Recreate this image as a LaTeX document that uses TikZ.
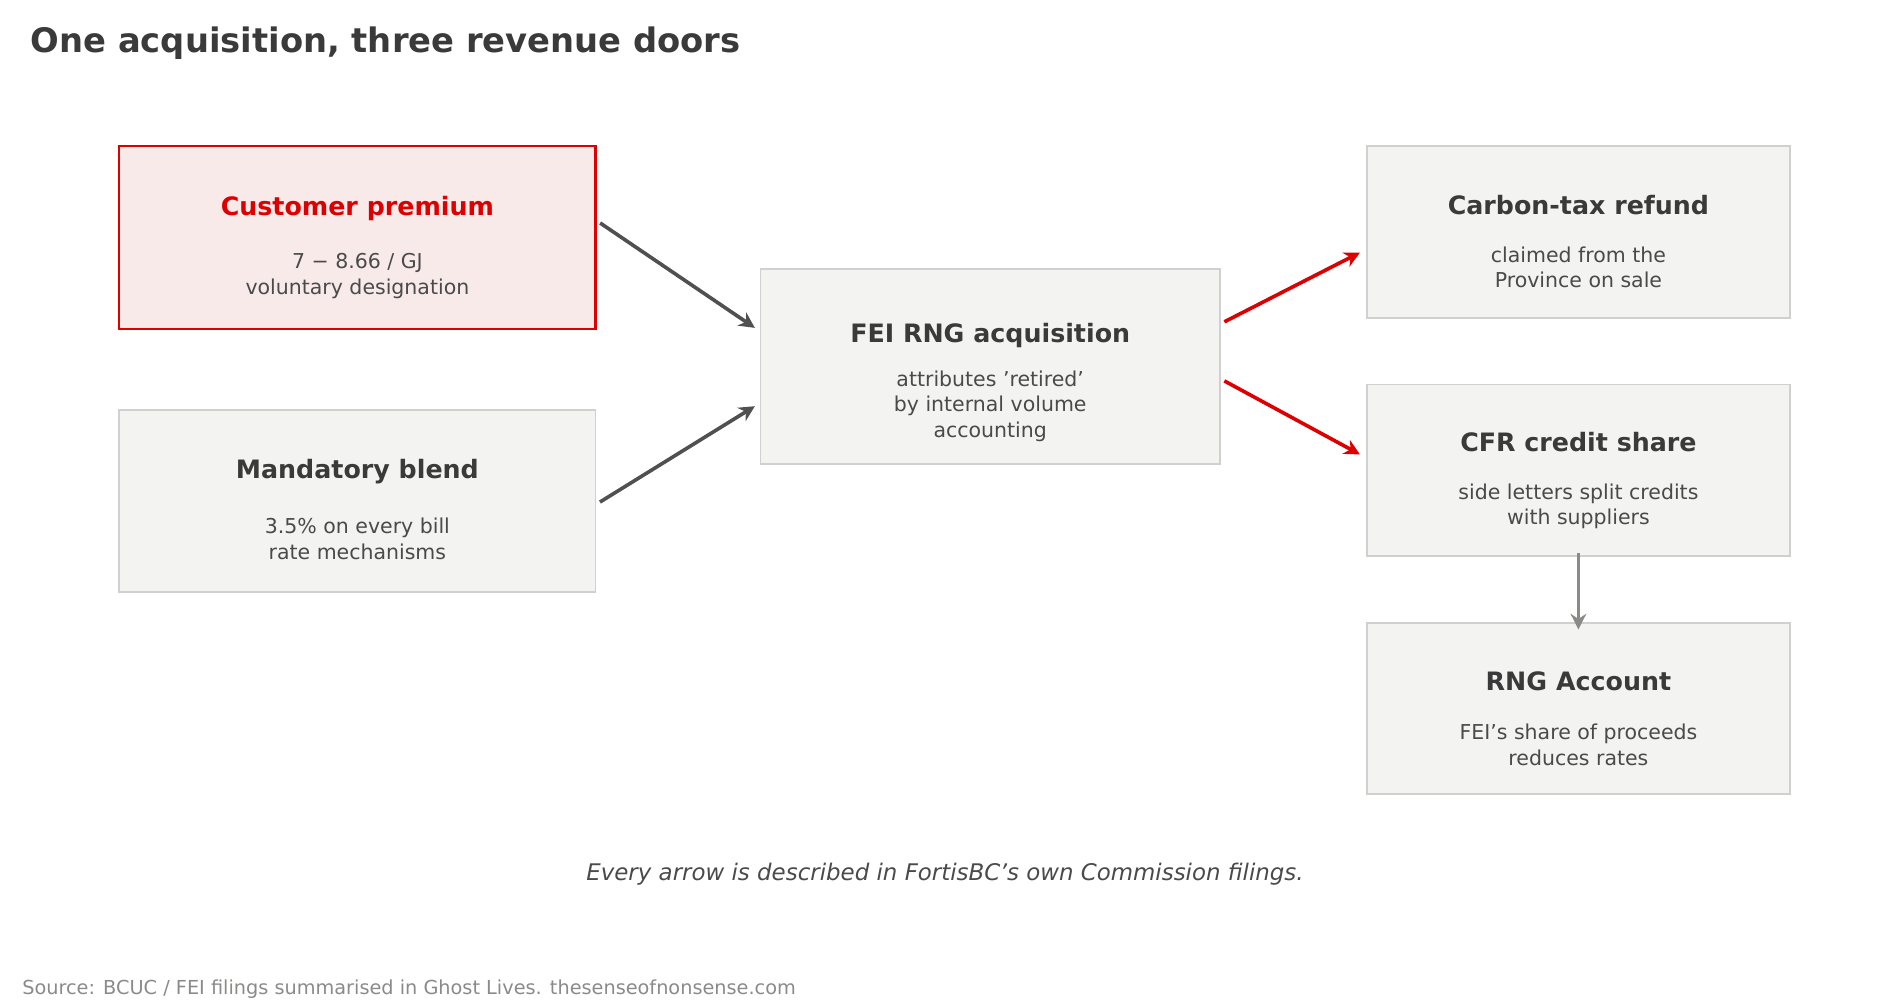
\documentclass[tikz,border=0pt]{standalone}
\usepackage{fontspec}
\setmainfont{DejaVu Sans}
\usetikzlibrary{arrows.meta, positioning}
\definecolor{accent}{HTML}{DD0000}
\definecolor{pinkfill}{HTML}{F9EAEA}
\definecolor{boxfill}{HTML}{F3F3F2}
\definecolor{boxline}{HTML}{D0D0CE}
\definecolor{ink}{HTML}{3A3A3A}
\definecolor{subink}{HTML}{4A4A4A}
\definecolor{darkarrow}{HTML}{505050}
\definecolor{greyarrow}{HTML}{8A8A88}
\tikzset{
  card/.style={draw=boxline, fill=boxfill, line width=1.5pt, inner sep=0pt},
  hot/.style={draw=accent, fill=pinkfill, line width=1.8pt, inner sep=0pt},
  head/.style={font=\fontsize{21}{25}\selectfont\bfseries, text=ink},
  sub/.style={font=\fontsize{17}{21}\selectfont, text=subink, align=center},
  arrow/.style={line width=3pt, -{Stealth[length=13pt,width=13pt]}},
}
\begin{document}
\begin{tikzpicture}[x=1pt,y=-1pt]
    \useasboundingbox (0,0) rectangle (1568,835);
    % title
    \node (title) [anchor=west, font=\fontsize{28}{32}\selectfont\bfseries, text=ink] at (22,36) {One acquisition, three revenue doors};

    % boxes
    \node (cust) [hot, minimum width=395pt, minimum height=152pt] at (296.5,197) {};
    \node (mand) [card, minimum width=395pt, minimum height=151pt] at (296.5,415.5) {};
    \node (fei) [card, minimum width=381pt, minimum height=162pt] at (821.5,304) {};
    \node (carbon) [card, minimum width=351pt, minimum height=143pt] at (1309.5,192.5) {};
    \node (cfr) [card, minimum width=351pt, minimum height=142pt] at (1309.5,390) {};
    \node (rng) [card, minimum width=351pt, minimum height=142pt] at (1309.5,588) {};

    % texts
    \node [head, text=accent] at (296.5,173) {Customer premium};
    \node [sub] at (296.5,229) {7 − 8.66 / GJ\\voluntary designation};
    \node [head] at (296.5,391) {Mandatory blend};
    \node [sub] at (296.5,447) {3.5\% on every bill\\rate mechanisms};
    \node [head] at (821.5,278) {FEI RNG acquisition};
    \node [sub] at (821.5,337) {attributes 'retired'\\by internal volume\\accounting};
    \node [head] at (1309.5,170) {Carbon-tax refund};
    \node [sub] at (1309.5,222) {claimed from the\\Province on sale};
    \node [head] at (1309.5,367) {CFR credit share};
    \node [sub] at (1309.5,420) {side letters split credits\\with suppliers};
    \node [head] at (1309.5,565) {RNG Account};
    \node [sub] at (1309.5,618) {FEI's share of proceeds\\reduces rates};

    % connections
    \draw [arrow, darkarrow] ([xshift=3pt,yshift=12pt]cust.east) -- ([xshift=-4pt,yshift=32pt]fei.west);
    \draw [arrow, darkarrow] ([xshift=3pt,yshift=-1pt]mand.east) -- ([xshift=-4pt,yshift=-33pt]fei.west);
    \draw [arrow, accent] ([xshift=3pt,yshift=37pt]fei.east) -- ([xshift=-5pt,yshift=-17pt]carbon.west);
    \draw [arrow, accent] ([xshift=3pt,yshift=-12pt]fei.east) -- ([xshift=-5pt,yshift=13pt]cfr.west);
    \draw [arrow, greyarrow] ([yshift=3pt]cfr.south) -- ([yshift=-6pt]rng.north);

    % footer
    \node (note) [font=\fontsize{19}{23}\selectfont\itshape, text=subink] at (784,725) {Every arrow is described in FortisBC's own Commission filings.};
    \node (source) [anchor=west, font=\fontsize{16}{20}\selectfont, text=greyarrow] at (15,821) {Source: BCUC / FEI filings summarised in Ghost Lives. thesenseofnonsense.com};
\end{tikzpicture}
\end{document}
